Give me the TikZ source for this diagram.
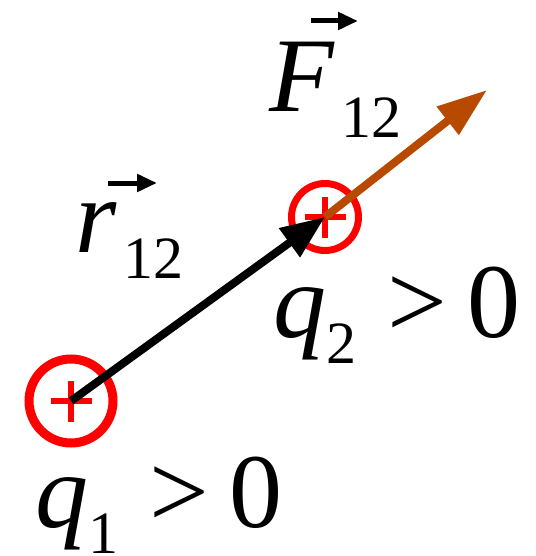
\documentclass[tikz,border=0pt]{standalone}
\usepackage{fontspec}
\setmainfont{Liberation Serif}
\usepackage{tikz}
\usetikzlibrary{arrows.meta}
\definecolor{chargered}{HTML}{FF0000}
\definecolor{forcebrown}{HTML}{B84A00}
\newcommand{\lowsub}[1]{\lower13pt\hbox{\fontsize{30pt}{30pt}\selectfont #1}}
\tikzset{
  % laddningar
  charge/.style={circle,draw=chargered,inner sep=0pt,
    path picture={\draw[chargered,line width=2.6pt]
      ([xshift=-10.25pt]path picture bounding box.center) -- ++(20.5pt,0pt)
      ([yshift=-10.25pt]path picture bounding box.center) -- ++(0pt,20.5pt);}},
  bigq/.style={charge,minimum size=42pt,line width=4.5pt},
  smallq/.style={charge,minimum size=33.5pt,line width=3.5pt},
  % vektorer
  rvec/.style={-{Triangle[length=22pt,width=17pt]},draw=black,line width=4pt},
  fvec/.style={-{Triangle[length=25pt,width=17pt]},draw=forcebrown,line width=4pt},
  vecbar/.style={-{Triangle[length=10pt,width=8.5pt]},line width=2.5pt},
  lbl/.style={inner sep=0pt,anchor=base west,font=\fontsize{53pt}{60pt}\selectfont},
}
\begin{document}
\begin{tikzpicture}[x=0.5pt,y=-0.5pt]
  \useasboundingbox (0,0) rectangle (535,556);
  \node[bigq] (q1) at (71,401) {};
  \node[smallq] (q2) at (325,217) {};
  \coordinate (Fend) at (487,90);
  \draw[rvec] (q1.center) -- (q2.center);
  \draw[fvec] (q2.center) -- (Fend);
  \node[lbl] (Flab) at (269.5,112) {\textit{F}\kern3pt\lowsub{12}};
  \node[lbl] (rlab) at (75,252) {\textit{r}\kern3.5pt\lowsub{12}};
  \node[lbl] (q2lab) at (273,337) {\textit{q}\lowsub{2}\hspace{15.5pt}>\hspace{10pt}0};
  \node[lbl] (q1lab) at (35,527) {\textit{q}\lowsub{1}\hspace{15.5pt}>\hspace{10pt}0};
  \draw[vecbar] ([shift={(41.5,-91)}]Flab.base west) -- ++(47,0);
  \draw[vecbar] ([shift={(33,-69)}]rlab.base west) -- ++(49,0);
\end{tikzpicture}
\end{document}
